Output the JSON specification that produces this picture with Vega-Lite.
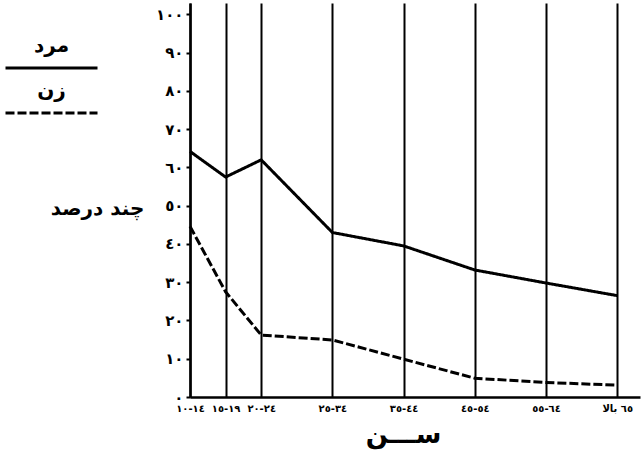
{
  "$schema": "https://vega.github.io/schema/vega-lite/v6.json",
  "autosize": {"type": "none"},
  "padding": {"left": 190, "top": 3, "right": 4, "bottom": 59},
  "width": 450,
  "height": 394,
  "background": "white",
  "config": {
    "view": {"stroke": null},
    "font": "DejaVu Sans"
  },
  "data": {
    "values": [
      {"age": 10, "group": "مرد", "value": 64.2},
      {"age": 15, "group": "مرد", "value": 57.5},
      {"age": 20, "group": "مرد", "value": 62},
      {"age": 30, "group": "مرد", "value": 43},
      {"age": 40, "group": "مرد", "value": 39.5},
      {"age": 50, "group": "مرد", "value": 33.2},
      {"age": 60, "group": "مرد", "value": 29.8},
      {"age": 70, "group": "مرد", "value": 26.5},
      {"age": 10, "group": "زن", "value": 44.6},
      {"age": 15, "group": "زن", "value": 27.5},
      {"age": 20, "group": "زن", "value": 16.2},
      {"age": 30, "group": "زن", "value": 14.9},
      {"age": 40, "group": "زن", "value": 9.9},
      {"age": 50, "group": "زن", "value": 4.9},
      {"age": 60, "group": "زن", "value": 3.8},
      {"age": 70, "group": "زن", "value": 3.1}
    ]
  },
  "mark": {"type": "line", "color": "black", "strokeWidth": 3},
  "encoding": {
    "x": {
      "field": "age",
      "type": "quantitative",
      "scale": {"domain": [10, 73.2], "nice": false, "zero": false},
      "axis": {
        "values": [10, 15, 20, 30, 40, 50, 60, 70],
        "labelExpr": "{'10':'١٤-١٠','15':'١٩-١٥','20':'٢٤-٢٠','30':'٣٤-٢٥','40':'٤٤-٣٥','50':'٥٤-٤٥','60':'٦٤-٥٥','70':'٦٥ بالا'}[datum.value]",
        "labelOverlap": false,
        "labelBound": false,
        "labelFlush": false,
        "labelFont": "DejaVu Sans",
        "labelFontSize": 10,
        "labelFontWeight": "bold",
        "labelColor": "black",
        "labelPadding": 6,
        "ticks": false,
        "domainColor": "black",
        "domainWidth": 2.5,
        "grid": true,
        "gridColor": "black",
        "gridWidth": 2,
        "gridOpacity": 1,
        "title": "ســـن",
        "titleFont": "DejaVu Sans",
        "titleFontSize": 26,
        "titleFontWeight": "bold",
        "titleColor": "black",
        "titleAnchor": null,
        "titleX": 213,
        "titleY": 37,
        "titleAlign": "center",
        "titleBaseline": "middle"
      }
    },
    "y": {
      "field": "value",
      "type": "quantitative",
      "scale": {"domain": [0, 103], "nice": false},
      "axis": {
        "values": [0, 10, 20, 30, 40, 50, 60, 70, 80, 90, 100],
        "labelExpr": "{'0':'٠','10':'١٠','20':'٢٠','30':'٣٠','40':'٤٠','50':'٥٠','60':'٦٠','70':'٧٠','80':'٨٠','90':'٩٠','100':'١٠٠'}[datum.value]",
        "labelFont": "DejaVu Sans",
        "labelFontSize": 15,
        "labelFontWeight": "bold",
        "labelColor": "black",
        "labelPadding": 3,
        "tickColor": "black",
        "tickSize": 4,
        "tickWidth": 2,
        "domainColor": "black",
        "domainWidth": 2.5,
        "grid": false,
        "title": "چند درصد",
        "titleAngle": 0,
        "titleFont": "DejaVu Sans",
        "titleFontSize": 20,
        "titleFontWeight": "bold",
        "titleColor": "black",
        "titleAnchor": null,
        "titleX": -93,
        "titleY": 205,
        "titleAlign": "center",
        "titleBaseline": "middle"
      }
    },
    "strokeDash": {
      "field": "group",
      "type": "nominal",
      "scale": {"domain": ["مرد", "زن"], "range": [[1, 0], [9, 3]]},
      "legend": {
        "orient": "none",
        "legendX": -151.5,
        "legendY": 52,
        "title": null,
        "padding": 0,
        "symbolType": "M-4,0H4",
        "symbolSize": 529,
        "symbolStrokeWidth": 3,
        "symbolStrokeColor": "black",
        "rowPadding": 7,
        "labelFont": "DejaVu Sans",
        "labelFontSize": 20,
        "labelFontWeight": "bold",
        "labelColor": "black",
        "labelAlign": "center",
        "labelBaseline": "alphabetic",
        "labelOffset": -13,
        "encode": {"labels": {"update": {"dy": {"value": -16}}}}
      }
    }
  }
}
